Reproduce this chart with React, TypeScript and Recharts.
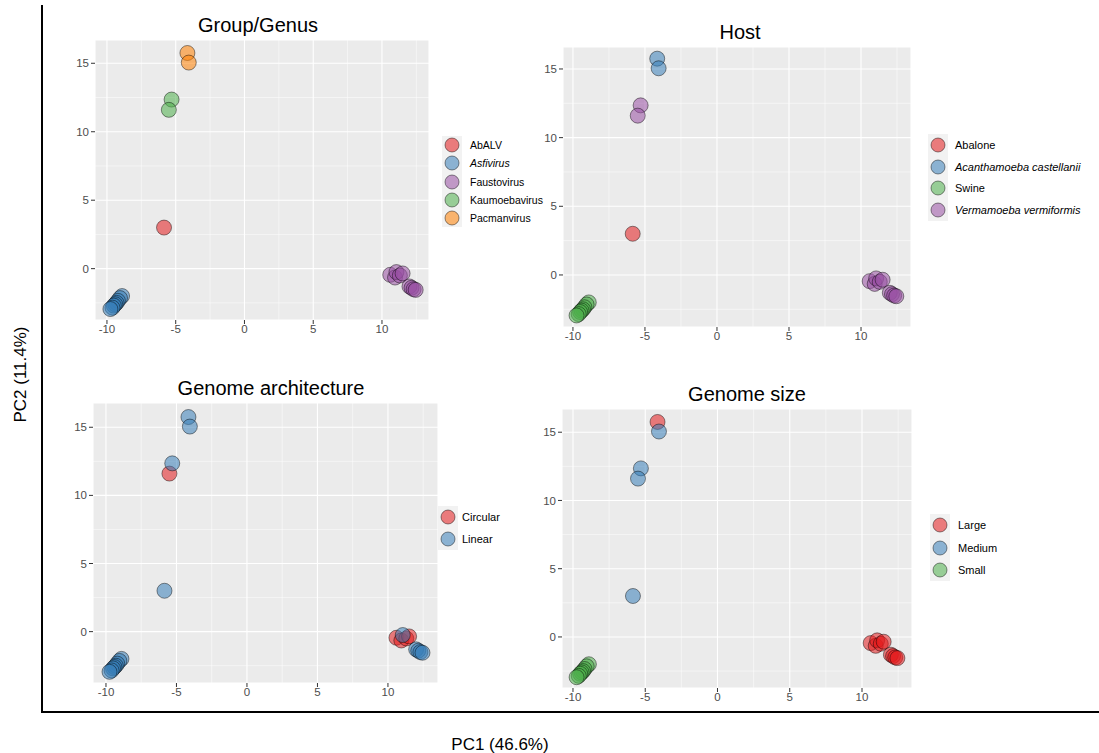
import { ScatterChart, Scatter, XAxis, YAxis, CartesianGrid, ReferenceLine } from "recharts";

// sample coordinates on the first two principal components
// order: AbALV, Asfivirus x8, Faustovirus x9, Kaumoebavirus x2, Pacmanvirus x2
const pc1 = [
    -5.85,
    -8.9, -9.05, -9.2, -9.3, -9.4, -9.5, -9.6, -9.75,
    10.6, 10.95, 11.05, 11.3, 11.5, 12.0, 12.15, 12.3, 12.45,
    -5.3, -5.5,
    -4.15, -4.05,
];
const pc2 = [
    3.0,
    -2.0, -2.15, -2.35, -2.5, -2.6, -2.7, -2.85, -2.95,
    -0.45, -0.65, -0.25, -0.5, -0.35, -1.3, -1.4, -1.5, -1.55,
    12.35, 11.6,
    15.75, 15.05,
];

const genus = [
    "AbALV",
    "Asfivirus", "Asfivirus", "Asfivirus", "Asfivirus", "Asfivirus", "Asfivirus", "Asfivirus", "Asfivirus",
    "Faustovirus", "Faustovirus", "Faustovirus", "Faustovirus", "Faustovirus", "Faustovirus", "Faustovirus", "Faustovirus", "Faustovirus",
    "Kaumoebavirus", "Kaumoebavirus",
    "Pacmanvirus", "Pacmanvirus",
];
const host = [
    "Abalone",
    "Swine", "Swine", "Swine", "Swine", "Swine", "Swine", "Swine", "Swine",
    "Vermamoeba vermiformis", "Vermamoeba vermiformis", "Vermamoeba vermiformis", "Vermamoeba vermiformis", "Vermamoeba vermiformis",
    "Vermamoeba vermiformis", "Vermamoeba vermiformis", "Vermamoeba vermiformis", "Vermamoeba vermiformis",
    "Vermamoeba vermiformis", "Vermamoeba vermiformis",
    "Acanthamoeba castellanii", "Acanthamoeba castellanii",
];
const architecture = [
    "Linear",
    "Linear", "Linear", "Linear", "Linear", "Linear", "Linear", "Linear", "Linear",
    "Circular", "Circular", "Linear", "Circular", "Circular", "Linear", "Linear", "Linear", "Linear",
    "Linear", "Circular",
    "Linear", "Linear",
];
const genomeSize = [
    "Medium",
    "Small", "Small", "Small", "Small", "Small", "Small", "Small", "Small",
    "Large", "Large", "Large", "Large", "Large", "Large", "Large", "Large", "Large",
    "Medium", "Medium",
    "Large", "Medium",
];

const genusLevels = ["AbALV", "Asfivirus", "Faustovirus", "Kaumoebavirus", "Pacmanvirus"];
const hostLevels = ["Abalone", "Acanthamoeba castellanii", "Swine", "Vermamoeba vermiformis"];
const architectureLevels = ["Circular", "Linear"];
const sizeLevels = ["Large", "Medium", "Small"];

const xTicks = [-10, -5, 0, 5, 10];
const yTicks = [0, 5, 10, 15];
const xMinor = [-7.5, -2.5, 2.5, 7.5, 12.5];
const yMinor = [-2.5, 2.5, 7.5, 12.5];

const RED = "#E41A1C";
const BLUE = "#377EB8";
const GREEN = "#4DAF4A";
const PURPLE = "#984EA3";
const ORANGE = "#FF7F00";

const FONT = "'Liberation Sans', Arial, Helvetica, sans-serif";
const Y_W = 34;
const X_H = 22;

function pointsFor(groups: string[], level: string) {
    const out: { x: number; y: number }[] = [];
    groups.forEach((g, i) => {
        if (g === level) out.push({ x: pc1[i], y: pc2[i] });
    });
    return out;
}

const dot = (color: string) => (props: any) => (
    <circle
        cx={props.cx}
        cy={props.cy}
        r={7.5}
        fill={color}
        fillOpacity={0.55}
        stroke="#000"
        strokeOpacity={0.55}
        strokeWidth={0.8}
    />
);

interface PanelProps {
    title: string;
    titleX: number;
    titleTop: number;
    groups: string[];
    levels: string[];
    colors: string[];
    italic?: string[];
    plot: { l: number; r: number; t: number; b: number };
    xDomain: [number, number];
    yDomain: [number, number];
    legend: { x: number; y: number; gap: number; fontSize: number; textX: number };
}

function Panel(p: PanelProps) {
    const width = p.plot.r - p.plot.l + Y_W;
    const height = p.plot.b - p.plot.t + X_H;
    const tickStyle = { fill: "#4D4D4D", fontSize: 11.5, fontFamily: FONT };
    return (
        <>
            <div
                style={{
                    position: "absolute",
                    left: p.titleX - 150,
                    width: 300,
                    top: p.titleTop,
                    textAlign: "center",
                    fontSize: 20,
                    lineHeight: "20px",
                    color: "#000",
                }}
            >
                {p.title}
            </div>
            <div style={{ position: "absolute", left: p.plot.l - Y_W, top: p.plot.t }}>
                <ScatterChart width={width} height={height} margin={{ top: 0, right: 0, bottom: 0, left: 0 }}>
                    <CartesianGrid fill="#EBEBEB" stroke="#FFFFFF" strokeWidth={1.1} />
                    {xMinor.map((v) => (
                        <ReferenceLine key={`vx${v}`} x={v} stroke="#FFFFFF" strokeWidth={0.5} />
                    ))}
                    {yMinor.map((v) => (
                        <ReferenceLine key={`hy${v}`} y={v} stroke="#FFFFFF" strokeWidth={0.5} />
                    ))}
                    <XAxis
                        type="number"
                        dataKey="x"
                        domain={p.xDomain}
                        ticks={xTicks}
                        allowDataOverflow
                        height={X_H}
                        axisLine={false}
                        stroke="#4D4D4D"
                        tickLine={{ stroke: "#333333" }}
                        tickSize={4}
                        tickMargin={1}
                        tick={tickStyle}
                    />
                    <YAxis
                        type="number"
                        dataKey="y"
                        domain={p.yDomain}
                        ticks={yTicks}
                        allowDataOverflow
                        width={Y_W}
                        axisLine={false}
                        stroke="#4D4D4D"
                        tickLine={{ stroke: "#333333" }}
                        tickSize={4}
                        tickMargin={2}
                        tick={tickStyle}
                    />
                    {p.levels.map((lv, i) => (
                        <Scatter
                            key={lv}
                            name={lv}
                            data={pointsFor(p.groups, lv)}
                            shape={dot(p.colors[i])}
                            isAnimationActive={false}
                        />
                    ))}
                </ScatterChart>
            </div>
            {p.levels.map((lv, i) => {
                const cy = p.legend.y + i * p.legend.gap;
                return (
                    <div key={`lg${lv}`}>
                        <div
                            style={{
                                position: "absolute",
                                left: p.legend.x - 10,
                                top: cy - p.legend.gap / 2,
                                width: 20,
                                height: p.legend.gap,
                                background: "#F2F2F2",
                            }}
                        />
                        <svg
                            style={{ position: "absolute", left: p.legend.x - 9, top: cy - 9 }}
                            width={18}
                            height={18}
                        >
                            <circle
                                cx={9}
                                cy={9}
                                r={7}
                                fill={p.colors[i]}
                                fillOpacity={0.55}
                                stroke="#000"
                                strokeOpacity={0.55}
                                strokeWidth={0.8}
                            />
                        </svg>
                        <div
                            style={{
                                position: "absolute",
                                left: p.legend.textX,
                                top: cy - 8,
                                height: 16,
                                lineHeight: "16px",
                                fontSize: p.legend.fontSize,
                                color: "#000",
                                whiteSpace: "nowrap",
                                fontStyle: p.italic && p.italic.includes(lv) ? "italic" : "normal",
                            }}
                        >
                            {lv}
                        </div>
                    </div>
                );
            })}
        </>
    );
}

export default function App() {
    return (
        <div
            style={{
                position: "absolute",
                left: 0,
                top: 0,
                width: 1099,
                height: 753,
                background: "#FFFFFF",
                fontFamily: FONT,
                overflow: "hidden",
            }}
        >
            <Panel
                title="Group/Genus"
                titleX={258}
                titleTop={15}
                groups={genus}
                levels={genusLevels}
                colors={[RED, BLUE, PURPLE, GREEN, ORANGE]}
                italic={["Asfivirus"]}
                plot={{ l: 95, r: 429, t: 40, b: 320 }}
                xDomain={[-10.87, 13.42]}
                yDomain={[-3.75, 16.7]}
                legend={{ x: 452, y: 145, gap: 18.3, fontSize: 10.5, textX: 470 }}
            />
            <Panel
                title="Host"
                titleX={740}
                titleTop={22}
                groups={host}
                levels={hostLevels}
                colors={[RED, BLUE, GREEN, PURPLE]}
                italic={["Acanthamoeba castellanii", "Vermamoeba vermiformis"]}
                plot={{ l: 563, r: 911, t: 47, b: 327 }}
                xDomain={[-10.69, 13.47]}
                yDomain={[-3.79, 16.6]}
                legend={{ x: 938, y: 145, gap: 21.7, fontSize: 11, textX: 955 }}
            />
            <Panel
                title="Genome architecture"
                titleX={271}
                titleTop={378}
                groups={architecture}
                levels={architectureLevels}
                colors={[RED, BLUE]}
                plot={{ l: 93, r: 438, t: 403, b: 683 }}
                xDomain={[-10.92, 13.55]}
                yDomain={[-3.77, 16.78]}
                legend={{ x: 448, y: 517, gap: 22, fontSize: 11, textX: 462 }}
            />
            <Panel
                title="Genome size"
                titleX={747}
                titleTop={384}
                groups={genomeSize}
                levels={sizeLevels}
                colors={[RED, BLUE, GREEN]}
                plot={{ l: 562, r: 912, t: 409, b: 688 }}
                xDomain={[-10.76, 13.46]}
                yDomain={[-3.74, 16.7]}
                legend={{ x: 940, y: 525, gap: 22.5, fontSize: 11, textX: 958 }}
            />
            {/* outer axis frame */}
            <div style={{ position: "absolute", left: 41, top: 5, width: 2, height: 708, background: "#000" }} />
            <div style={{ position: "absolute", left: 41, top: 711, width: 1058, height: 2, background: "#000" }} />
            <div
                style={{
                    position: "absolute",
                    left: 400,
                    width: 200,
                    top: 736,
                    textAlign: "center",
                    fontSize: 17,
                    lineHeight: "17px",
                    color: "#000",
                }}
            >
                PC1 (46.6%)
            </div>
            <div
                style={{
                    position: "absolute",
                    left: 20 - 100,
                    top: 375 - 9,
                    width: 200,
                    textAlign: "center",
                    fontSize: 17,
                    lineHeight: "17px",
                    color: "#000",
                    transform: "rotate(-90deg)",
                }}
            >
                PC2 (11.4%)
            </div>
        </div>
    );
}
